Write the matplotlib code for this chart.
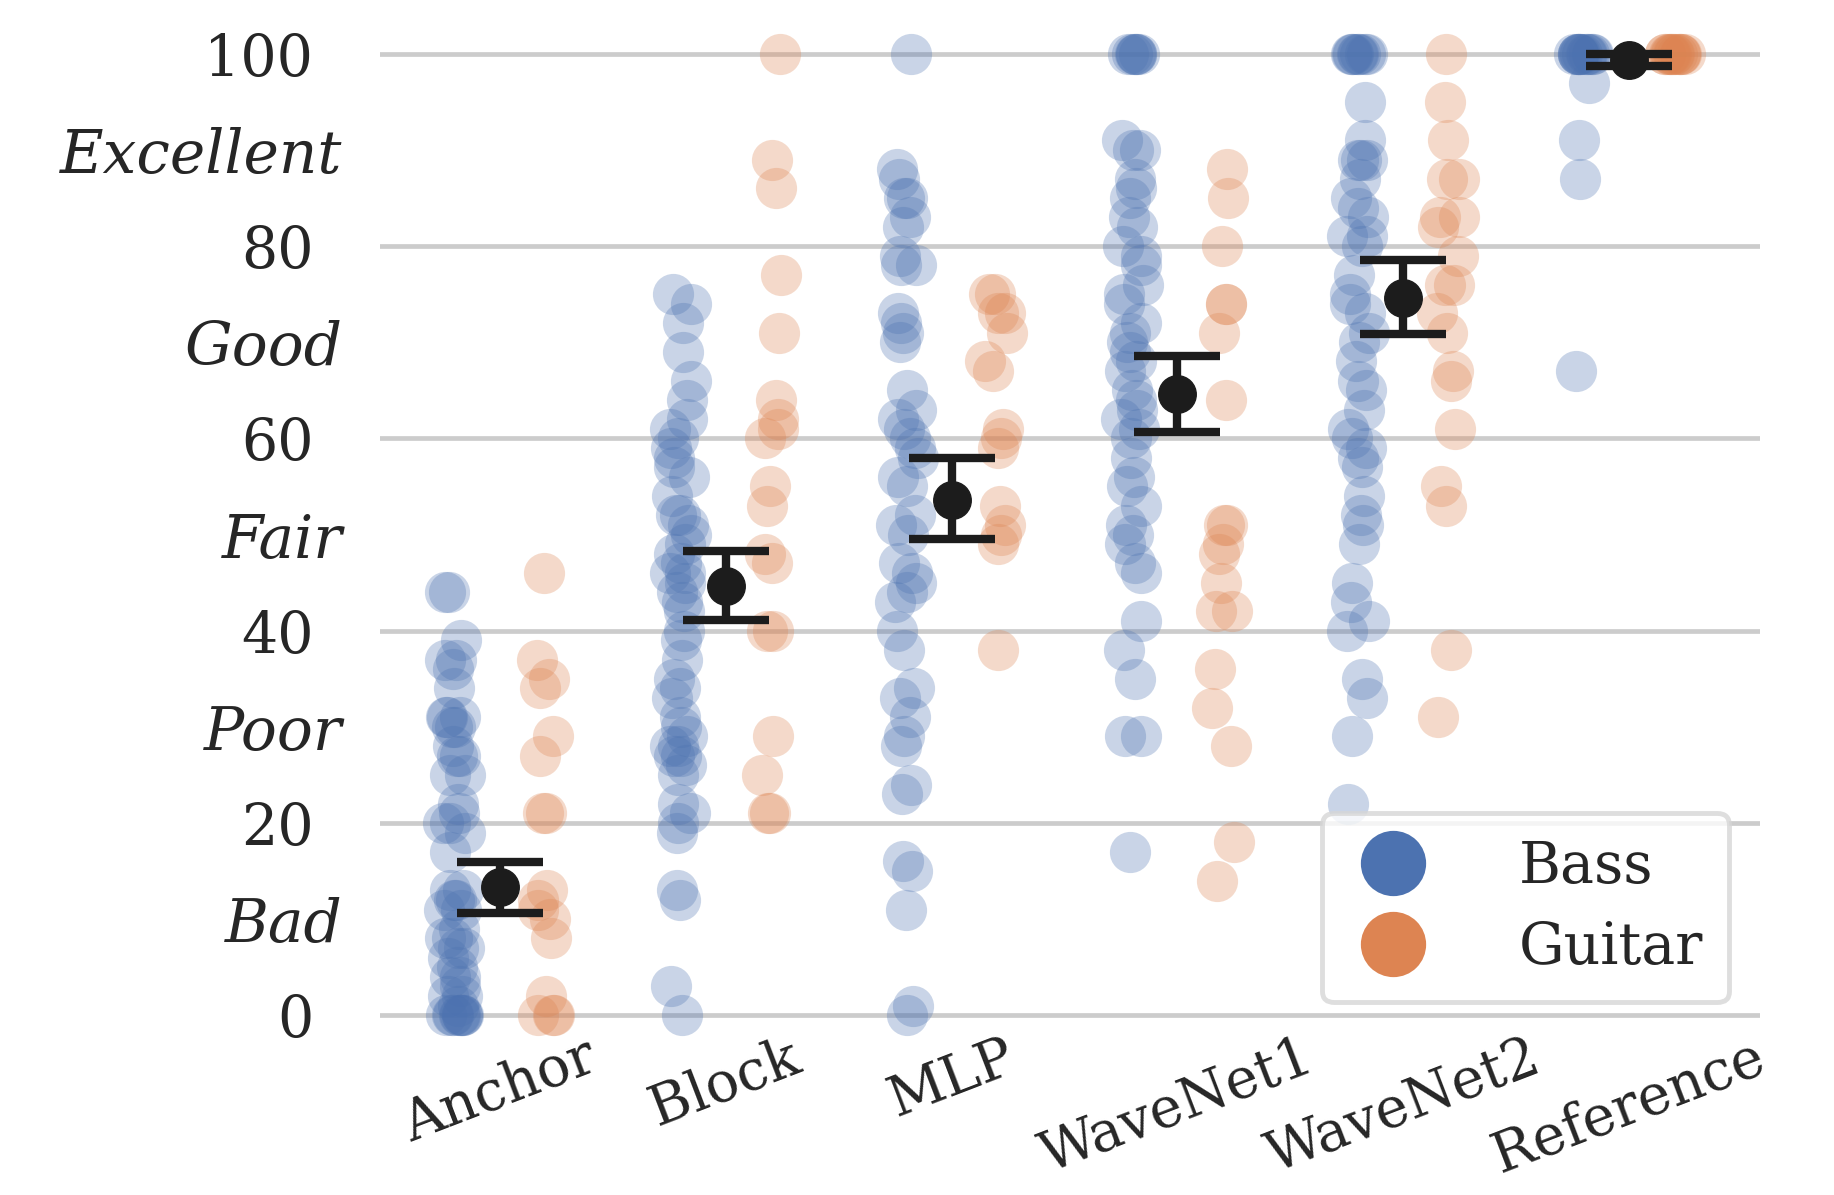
import numpy as np
import matplotlib
matplotlib.use("Agg")
import matplotlib.pyplot as plt
from matplotlib.lines import Line2D

# listening test scores
categories = ["Anchor", "Block", "MLP", "WaveNet1", "WaveNet2", "Reference"]

anchor_bass = [44, 44, 39, 37, 37, 36, 34, 31, 31, 31, 30, 30, 28, 27, 27, 25, 25, 22, 21, 20,
               20, 19, 17, 13, 13, 12, 12, 11, 11, 9, 8, 8, 7, 7, 6, 5, 4, 4, 3, 2,
               2, 1, 0, 0, 0, 0, 0, 0, 0, 0]
anchor_guitar = [46, 37, 35, 34, 29, 27, 21, 21, 13, 12, 11, 10, 8, 2, 0, 0, 0]

block_bass = [75, 74, 72, 69, 66, 64, 62, 61, 60, 59, 58, 57, 56, 54, 52, 52, 51, 50, 49, 48,
              47, 46, 46, 45, 44, 43, 42, 40, 39, 37, 35, 34, 33, 31, 30, 29, 28, 28, 27, 27,
              26, 25, 22, 21, 20, 19, 13, 12, 3, 0]
block_guitar = [100, 89, 86, 77, 71, 64, 62, 61, 60, 55, 53, 48, 47, 40, 40, 29, 25, 21, 21]

mlp_bass = [100, 88, 87, 85, 85, 83, 82, 79, 78, 78, 73, 72, 71, 70, 65, 63, 62, 61, 60, 59,
            58, 56, 55, 52, 51, 50, 47, 46, 45, 44, 43, 40, 38, 34, 33, 31, 29, 28, 24, 23,
            16, 15, 11, 1, 0]
mlp_guitar = [75, 75, 73, 73, 71, 68, 67, 61, 60, 59, 53, 51, 50, 49, 38]

wavenet1_bass = [100, 100, 100, 100, 100, 100, 91, 90, 90, 87, 86, 85, 83, 82, 80, 79, 78, 76,
                 75, 74, 72, 71, 70, 69, 68, 67, 65, 64, 63, 62, 61, 60, 58, 56, 55, 53, 51,
                 50, 49, 47, 46, 41, 38, 35, 29, 29, 17]
wavenet1_guitar = [88, 85, 80, 74, 74, 71, 64, 51, 51, 49, 48, 45, 42, 42, 36, 32, 28, 18, 14]

wavenet2_bass = [100, 100, 100, 100, 100, 100, 100, 100, 95, 91, 89, 89, 89, 87, 85, 84, 83,
                 81, 81, 80, 77, 75, 74, 73, 71, 70, 68, 66, 65, 63, 61, 60, 59, 58, 57, 54,
                 52, 51, 49, 45, 43, 41, 40, 35, 33, 29, 22]
wavenet2_guitar = [100, 95, 91, 87, 87, 83, 83, 82, 79, 76, 76, 73, 71, 67, 66, 61, 55, 53, 38, 31]

reference_bass = [100, 100, 100, 100, 100, 100, 100, 100, 100, 100, 100, 100, 97, 91, 87, 67]
reference_guitar = [100, 100, 100, 100, 100, 100, 100, 100, 100, 100, 100, 100]

bass = [anchor_bass, block_bass, mlp_bass, wavenet1_bass, wavenet2_bass, reference_bass]
guitar = [anchor_guitar, block_guitar, mlp_guitar, wavenet1_guitar, wavenet2_guitar, reference_guitar]

# overall mean and confidence interval per system
means = [13.3, 44.6, 53.6, 64.6, 74.6, 99.4]
ci_low = [10.6, 41.1, 49.5, 60.7, 70.9, 98.7]
ci_high = [15.9, 48.3, 58.0, 68.6, 78.6, 100.0]

ytick_major = [0, 20, 40, 60, 80, 100]
ytick_minor = [10, 30, 50, 70, 90]
quality_labels = ["Bad", "Poor", "Fair", "Good", "Excellent"]

BLUE = "#4C72B0"
ORANGE = "#DD8452"
TEXT = "#262626"

plt.rcParams["font.family"] = "DejaVu Serif"
plt.rcParams["text.color"] = TEXT
plt.rcParams["xtick.color"] = TEXT
plt.rcParams["ytick.color"] = TEXT

fig = plt.figure(figsize=(18.34, 11.95), dpi=100)
ax = fig.add_axes([0.2072, 0.1182, 0.7526, 0.869])

rng = np.random.default_rng(3)
for i in range(len(categories)):
    xb = i - 0.2 + rng.uniform(-0.05, 0.05, len(bass[i]))
    xg = i + 0.2 + rng.uniform(-0.05, 0.05, len(guitar[i]))
    ax.scatter(xb, bass[i], s=880, color=BLUE, alpha=0.3, linewidths=0, zorder=2)
    ax.scatter(xg, guitar[i], s=880, color=ORANGE, alpha=0.3, linewidths=0, zorder=2)

x = np.arange(len(categories))
m = np.array(means)
err = [m - np.array(ci_low), np.array(ci_high) - m]
ax.errorbar(x, m, yerr=err, fmt="o", color="#1c1c1c", markersize=27,
            elinewidth=6, capsize=31, capthick=6, zorder=5)

ax.set_xlim(-0.53, 5.58)
ax.set_ylim(-4, 104)

ax.set_yticks(ytick_major)
ax.set_yticklabels([str(v) for v in ytick_major])
ax.set_yticks(ytick_minor, minor=True)
ax.set_yticklabels(quality_labels, minor=True, fontstyle="italic")
ax.tick_params(axis="y", which="major", length=0, pad=48, labelsize=41)
ax.tick_params(axis="y", which="minor", length=0, pad=27, labelsize=43)
ax.yaxis.grid(True, which="major", color="#cccccc", linewidth=3.4)
ax.set_axisbelow(True)

ax.set_xticks(x)
ax.set_xticklabels(categories, rotation=21, ha="center")
ax.tick_params(axis="x", length=0, pad=-17, labelsize=40)

for s in ax.spines.values():
    s.set_visible(False)

handles = [Line2D([], [], marker="o", linestyle="", color=BLUE, markersize=47, markeredgewidth=0),
           Line2D([], [], marker="o", linestyle="", color=ORANGE, markersize=47, markeredgewidth=0)]
leg = ax.legend(handles, ["Bass", "Guitar"], loc="lower right",
                bbox_to_anchor=(0.9426, 0.1615), bbox_transform=fig.transFigure,
                fontsize=41, frameon=True, fancybox=True, handletextpad=1.4,
                borderpad=0.45, labelspacing=0.45, handlelength=1.6, borderaxespad=0)
leg.get_frame().set_edgecolor("#d6d6d6")
leg.get_frame().set_linewidth(3.5)

fig.savefig("out.png", dpi=100)
